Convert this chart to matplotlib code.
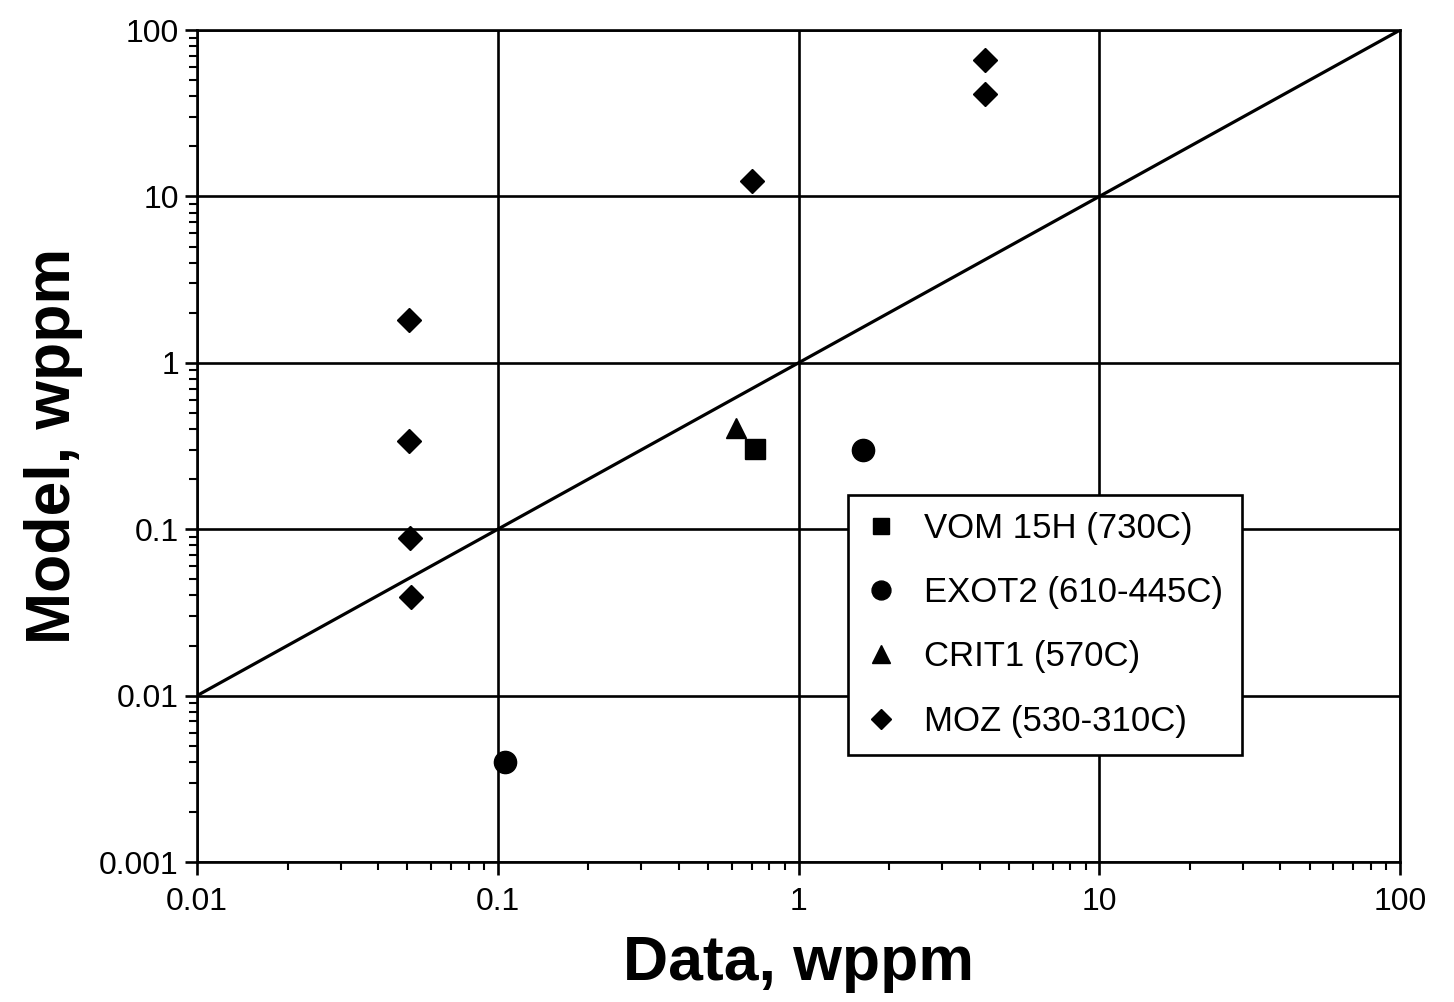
import numpy as np
import matplotlib.pyplot as plt
from matplotlib.ticker import LogLocator, FixedLocator, FixedFormatter, NullFormatter

plt.rcParams['font.family'] = ['Liberation Sans', 'DejaVu Sans']

# data (wppm)
vom_x = [0.716]
vom_y = [0.303]
exot_x = [1.64, 0.106]
exot_y = [0.30, 0.004]
crit_x = [0.62]
crit_y = [0.406]
moz_x = [4.17, 4.17, 0.70, 0.0507, 0.0507, 0.051, 0.0515]
moz_y = [66, 41, 12.4, 1.81, 0.339, 0.0885, 0.039]

one_to_one = [0.01, 100]

xticks = [0.01, 0.1, 1, 10, 100]
xlabels = ['0.01', '0.1', '1', '10', '100']
yticks = [0.001, 0.01, 0.1, 1, 10, 100]
ylabels = ['0.001', '0.01', '0.1', '1', '10', '100']

fig = plt.figure(figsize=(14.54, 10.02), dpi=100)
ax = fig.add_axes([0.1355, 0.1397, 0.8274, 0.8303])
ax.set_xscale('log')
ax.set_yscale('log')
ax.set_xlim(0.01, 100)
ax.set_ylim(0.001, 100)

ax.grid(True, which='major', color='black', linewidth=1.9)
ax.set_axisbelow(True)

ax.plot(one_to_one, one_to_one, color='black', linewidth=2.3, zorder=3)

ax.plot(vom_x, vom_y, 's', color='black', markersize=14, label='VOM 15H (730C)', zorder=4)
ax.plot(exot_x, exot_y, 'o', color='black', markersize=16, label='EXOT2 (610-445C)', zorder=4)
ax.plot(crit_x, crit_y, '^', color='black', markersize=15, label='CRIT1 (570C)', zorder=4)
ax.plot(moz_x, moz_y, 'D', color='black', markersize=12.5, label='MOZ (530-310C)', zorder=4)

ax.xaxis.set_major_locator(FixedLocator(xticks))
ax.xaxis.set_major_formatter(FixedFormatter(xlabels))
ax.yaxis.set_major_locator(FixedLocator(yticks))
ax.yaxis.set_major_formatter(FixedFormatter(ylabels))
ax.xaxis.set_minor_locator(LogLocator(base=10, subs=np.arange(2, 10), numticks=20))
ax.yaxis.set_minor_locator(LogLocator(base=10, subs=np.arange(2, 10), numticks=20))
ax.xaxis.set_minor_formatter(NullFormatter())
ax.yaxis.set_minor_formatter(NullFormatter())

ax.tick_params(which='major', direction='out', length=9, width=1.9, labelsize=23)
ax.tick_params(axis='x', which='major', pad=9)
ax.tick_params(axis='y', which='major', pad=4)
ax.tick_params(which='minor', direction='out', length=6, width=1.5)
for s in ax.spines.values():
    s.set_linewidth(1.9)

ax.set_xlabel('Data, wppm', fontsize=45, fontweight='bold', labelpad=12)
ax.set_ylabel('Model, wppm', fontsize=45, fontweight='bold', labelpad=12)

leg = ax.legend(loc='lower left', bbox_to_anchor=(0.541, 0.1286, 0.3275, 0.316),
                mode='expand', borderaxespad=0, fontsize=25, frameon=True, fancybox=False,
                edgecolor='black', framealpha=1, borderpad=0.5, labelspacing=0.9,
                handlelength=0.9, handletextpad=0.8, markerscale=0.85)
leg.get_frame().set_linewidth(1.9)

fig.savefig('out.png', dpi=100)
